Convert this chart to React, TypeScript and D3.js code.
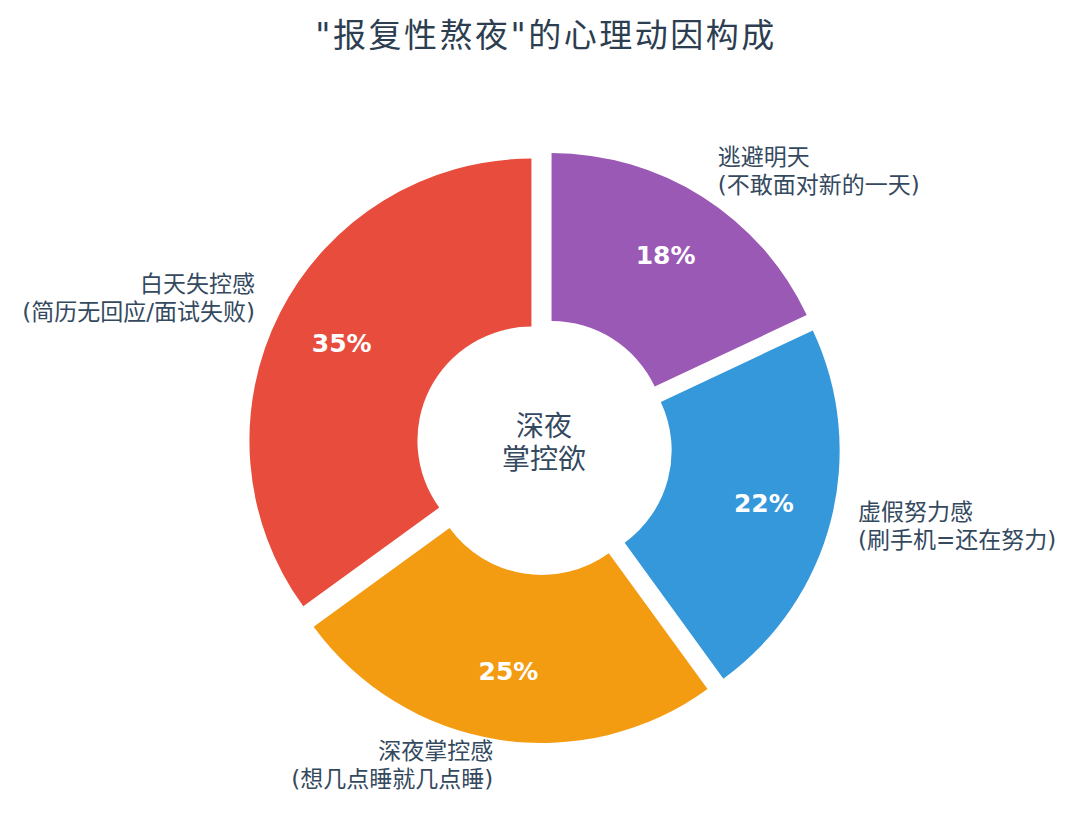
import { useEffect, useRef } from 'react';
import * as d3 from 'd3';

const categories = ['白天失控感', '深夜掌控感', '虚假努力感', '逃避明天'];
const subLabels = ['(简历无回应/面试失败)', '(想几点睡就几点睡)', '(刷手机=还在努力)', '(不敢面对新的一天)'];
const shares = [35, 25, 22, 18];
const colors = ['#e74c3c', '#f39c12', '#3498db', '#9b59b6'];
const title = '"报复性熬夜"的心理动因构成';
const centerLines = ['深夜', '掌控欲'];

const FONT = '"DejaVu Sans", "Noto Sans CJK SC", sans-serif';

type Slice = { name: string; sub: string; value: number; color: string };

export default function App() {
  const ref = useRef<SVGSVGElement>(null);

  useEffect(() => {
    if (!ref.current) return;
    const svg = d3.select(ref.current);
    svg.selectAll('*').remove();

    const width = 1080;
    const height = 820;
    const cx = 544;
    const cy = 447;
    const R = 282;
    const r = 114;
    const explode = 0.05 * R;

    const data: Slice[] = categories.map((c, i) => ({
      name: c,
      sub: subLabels[i],
      value: shares[i],
      color: colors[i],
    }));

    svg.append('rect').attr('width', width).attr('height', height).attr('fill', '#fff');

    // Title
    svg.append('text')
      .attr('x', width / 2 + 6)
      .attr('y', 35)
      .attr('text-anchor', 'middle')
      .attr('dominant-baseline', 'central')
      .attr('font-family', FONT)
      .attr('font-size', 33)
      .attr('letter-spacing', 2.5)
      .attr('fill', '#2c3e50')
      .text(title);

    // counterclockwise from 12 o'clock, like matplotlib startangle=90
    const pie = d3.pie<Slice>()
      .sort(null)
      .value(d => d.value)
      .startAngle(0)
      .endAngle(-2 * Math.PI);

    const arc = d3.arc<d3.PieArcDatum<Slice>>()
      .innerRadius(r)
      .outerRadius(R);

    const g = svg.append('g').attr('transform', `translate(${cx},${cy})`);

    const arcs = pie(data);

    arcs.forEach(d => {
      const mid = (d.startAngle + d.endAngle) / 2;
      const ox = Math.sin(mid) * explode;
      const oy = -Math.cos(mid) * explode;
      const sg = g.append('g').attr('transform', `translate(${ox},${oy})`);

      sg.append('path')
        .attr('d', arc(d) as string)
        .attr('fill', d.data.color);

      // percentage
      const pr = 0.755 * R;
      sg.append('text')
        .attr('x', Math.sin(mid) * pr)
        .attr('y', -Math.cos(mid) * pr)
        .attr('text-anchor', 'middle')
        .attr('dominant-baseline', 'central')
        .attr('font-family', FONT)
        .attr('font-weight', 'bold')
        .attr('font-size', 25)
        .attr('fill', '#fff')
        .text(`${d.data.value}%`);

      // outer label
      const lr = 1.1 * R;
      const lx = Math.sin(mid) * lr;
      const ly = -Math.cos(mid) * lr - 2;
      const anchor = lx < 0 ? 'end' : 'start';
      const lineGap = 28;
      const t = sg.append('text')
        .attr('text-anchor', anchor)
        .attr('font-family', FONT)
        .attr('font-size', 23)
        .attr('fill', '#34495e');
      [d.data.name, d.data.sub].forEach((line, i) => {
        t.append('tspan')
          .attr('x', lx)
          .attr('y', ly + (i - 0.5) * lineGap)
          .attr('dominant-baseline', 'central')
          .text(line);
      });
    });

    // center text
    const ct = g.append('text')
      .attr('text-anchor', 'middle')
      .attr('font-family', FONT)
      .attr('font-size', 28)
      .attr('fill', '#34495e');
    centerLines.forEach((line, i) => {
      ct.append('tspan')
        .attr('x', 0)
        .attr('y', -4 + (i - 0.5) * 33)
        .attr('dominant-baseline', 'central')
        .text(line);
    });
  }, []);

  return (
    <div style={{ width: 1080, height: 820, margin: -8 }}>
      <svg ref={ref} width={1080} height={820} />
    </div>
  );
}
